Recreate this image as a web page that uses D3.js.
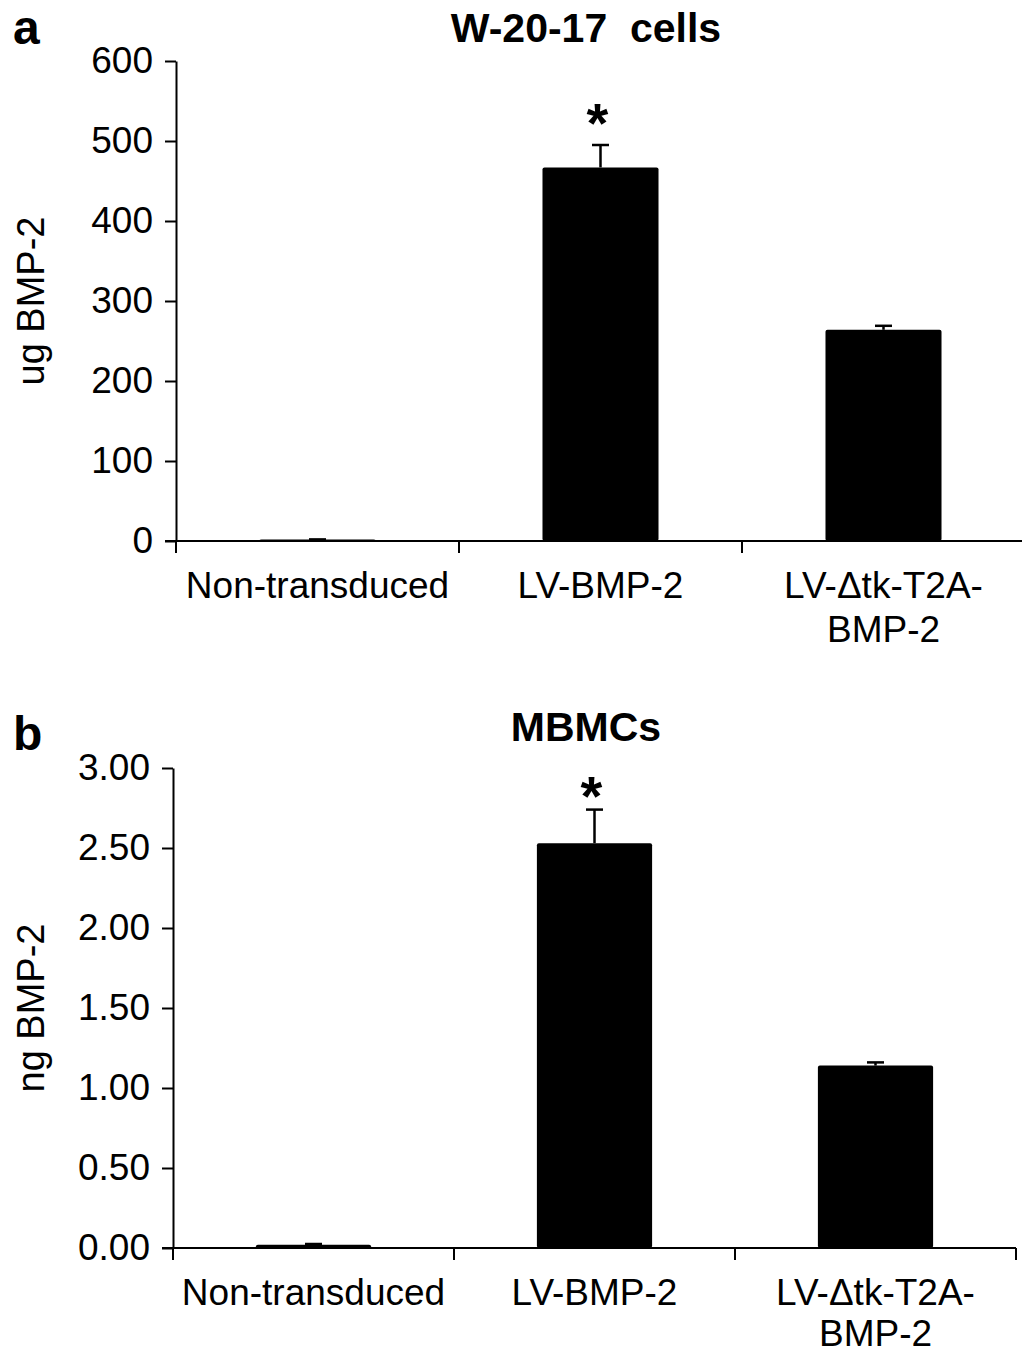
<!DOCTYPE html>
<html>
<head>
<meta charset="utf-8">
<script src="https://cdn.jsdelivr.net/npm/d3@7"></script>
<style>
  body { margin: 0; background: #fff; }
  svg { display: block; font-family: "Liberation Sans", Arial, sans-serif; }
</style>
</head>
<body>
<svg id="chart" width="1022" height="1353"></svg>
<script>
// categories shared by both panels
var categories = ["Non-transduced", "LV-BMP-2", "LV-\u0394tk-T2A-\nBMP-2"];

// panel a: W-20-17 cells (ug BMP-2)
var w20Values = [2, 467, 264];
var w20Errors = [0, 28, 5];
var w20Ticks = [0, 100, 200, 300, 400, 500, 600];

// panel b: MBMCs (ng BMP-2)
var mbmcValues = [0.02, 2.53, 1.14];
var mbmcErrors = [0.005, 0.21, 0.02];
var mbmcTicks = [0, 0.5, 1, 1.5, 2, 2.5, 3];

// which bar gets the significance star
var starred = [false, true, false];

var svg = d3.select("#chart");

function panel(opt){
	var g = svg.append("g");

	var x = d3.scaleBand()
			.domain(categories)
			.range([opt.x0, opt.x1])
			.paddingInner(0.59)
			.paddingOuter(0.295);

	var y = d3.scaleLinear()
			.domain([0, opt.max])
			.range([opt.yBot, opt.yTop]);

	var data = categories.map(function(c, i){
		return {cat: c, value: opt.values[i], err: opt.errors[i], star: starred[i]};
	});

	// bars
	g.selectAll(".bar")
		.data(data)
		.enter().append("rect")
		.attr("class", "bar")
		.attr("x", function(d){ return x(d.cat); })
		.attr("width", x.bandwidth())
		.attr("y", function(d){ return y(d.value); })
		.attr("height", function(d){ return y(0) - y(d.value); })
		.attr("rx", 2)
		.attr("fill", "#000");

	// error bars (upper only)
	var eb = g.selectAll(".err")
		.data(data)
		.enter().append("g")
		.attr("class", "err")
		.attr("stroke", "#000")
		.attr("stroke-width", 2.5);
	eb.append("line")
		.attr("x1", function(d){ return x(d.cat) + x.bandwidth() / 2; })
		.attr("x2", function(d){ return x(d.cat) + x.bandwidth() / 2; })
		.attr("y1", function(d){ return y(d.value); })
		.attr("y2", function(d){ return y(d.value + d.err); });
	eb.append("line")
		.attr("x1", function(d){ return x(d.cat) + x.bandwidth() / 2 - 8.5; })
		.attr("x2", function(d){ return x(d.cat) + x.bandwidth() / 2 + 8.5; })
		.attr("y1", function(d){ return y(d.value + d.err); })
		.attr("y2", function(d){ return y(d.value + d.err); });

	// stars
	g.selectAll(".star")
		.data(data.filter(function(d){ return d.star; }))
		.enter().append("text")
		.attr("class", "star")
		.attr("x", function(d){ return x(d.cat) + x.bandwidth() / 2 - 3; })
		.attr("y", function(d){ return y(d.value + d.err) - opt.starGap; })
		.attr("text-anchor", "middle")
		.attr("font-weight", "bold")
		.attr("font-size", 56)
		.text("*");

	// y axis
	var yAxis = d3.axisLeft(y)
			.tickValues(opt.ticks)
			.tickFormat(opt.format)
			.tickSize(11)
			.tickSizeOuter(0)
			.tickPadding(12);
	var ya = g.append("g")
		.attr("transform", "translate(" + opt.x0 + ",0)")
		.call(yAxis);
	ya.selectAll("path, line").attr("stroke", "#000").attr("stroke-width", 2);
	ya.selectAll("text")
		.attr("font-size", 37)
		.attr("font-family", "Liberation Sans, Arial, sans-serif")
		.attr("fill", "#000");

	// x axis: line with ticks at band boundaries
	g.append("line")
		.attr("x1", opt.x0 - 11).attr("x2", opt.x1)
		.attr("y1", opt.yBot).attr("y2", opt.yBot)
		.attr("stroke", "#000").attr("stroke-width", 2);
	g.selectAll(".xtick")
		.data(d3.range(categories.length + 1))
		.enter().append("line")
		.attr("class", "xtick")
		.attr("x1", function(i){ return opt.x0 + i * x.step(); })
		.attr("x2", function(i){ return opt.x0 + i * x.step(); })
		.attr("y1", opt.yBot)
		.attr("y2", opt.yBot + 12)
		.attr("stroke", "#000").attr("stroke-width", 2);

	// category labels
	var lab = g.selectAll(".cat")
		.data(categories)
		.enter().append("text")
		.attr("class", "cat")
		.attr("text-anchor", "middle")
		.attr("font-size", 37)
		.attr("fill", "#000");
	lab.selectAll("tspan")
		.data(function(d){ return d.split("\n").map(function(t){ return {t: t, c: d}; }); })
		.enter().append("tspan")
		.attr("x", function(d){ return x(d.c) + x.bandwidth() / 2; })
		.attr("y", function(d, i){ return opt.yBot + 57 + i * opt.lineGap; })
		.text(function(d){ return d.t; });

	// y axis title
	g.append("text")
		.attr("transform", "translate(44," + (opt.yTop + opt.yBot) / 2 + ") rotate(-90)")
		.attr("text-anchor", "middle")
		.attr("font-size", 38)
		.text(opt.yTitle);

	// panel title
	g.append("text")
		.attr("x", 586)
		.attr("y", opt.titleY)
		.attr("text-anchor", "middle")
		.attr("font-weight", "bold")
		.attr("font-size", 41)
		.attr("xml:space", "preserve")
		.text(opt.title);

	// panel letter
	g.append("text")
		.attr("x", 13)
		.attr("y", opt.letterY)
		.attr("font-weight", "bold")
		.attr("font-size", 48)
		.text(opt.letter);
}

panel({
	letter: "a", letterY: 44, title: "W-20-17  cells", titleY: 42,
	yTitle: "ug BMP-2",
	x0: 176, x1: 1025, yTop: 61, yBot: 541, lineGap: 44,
	max: 600, ticks: w20Ticks, format: d3.format("d"),
	values: w20Values, errors: w20Errors, starGap: 3
});

panel({
	letter: "b", letterY: 750, title: "MBMCs", titleY: 741,
	yTitle: "ng BMP-2",
	x0: 173, x1: 1016, yTop: 768, yBot: 1248, lineGap: 41,
	max: 3, ticks: mbmcTicks, format: d3.format(".2f"),
	values: mbmcValues, errors: mbmcErrors, starGap: -5
});
</script>
</body>
</html>
